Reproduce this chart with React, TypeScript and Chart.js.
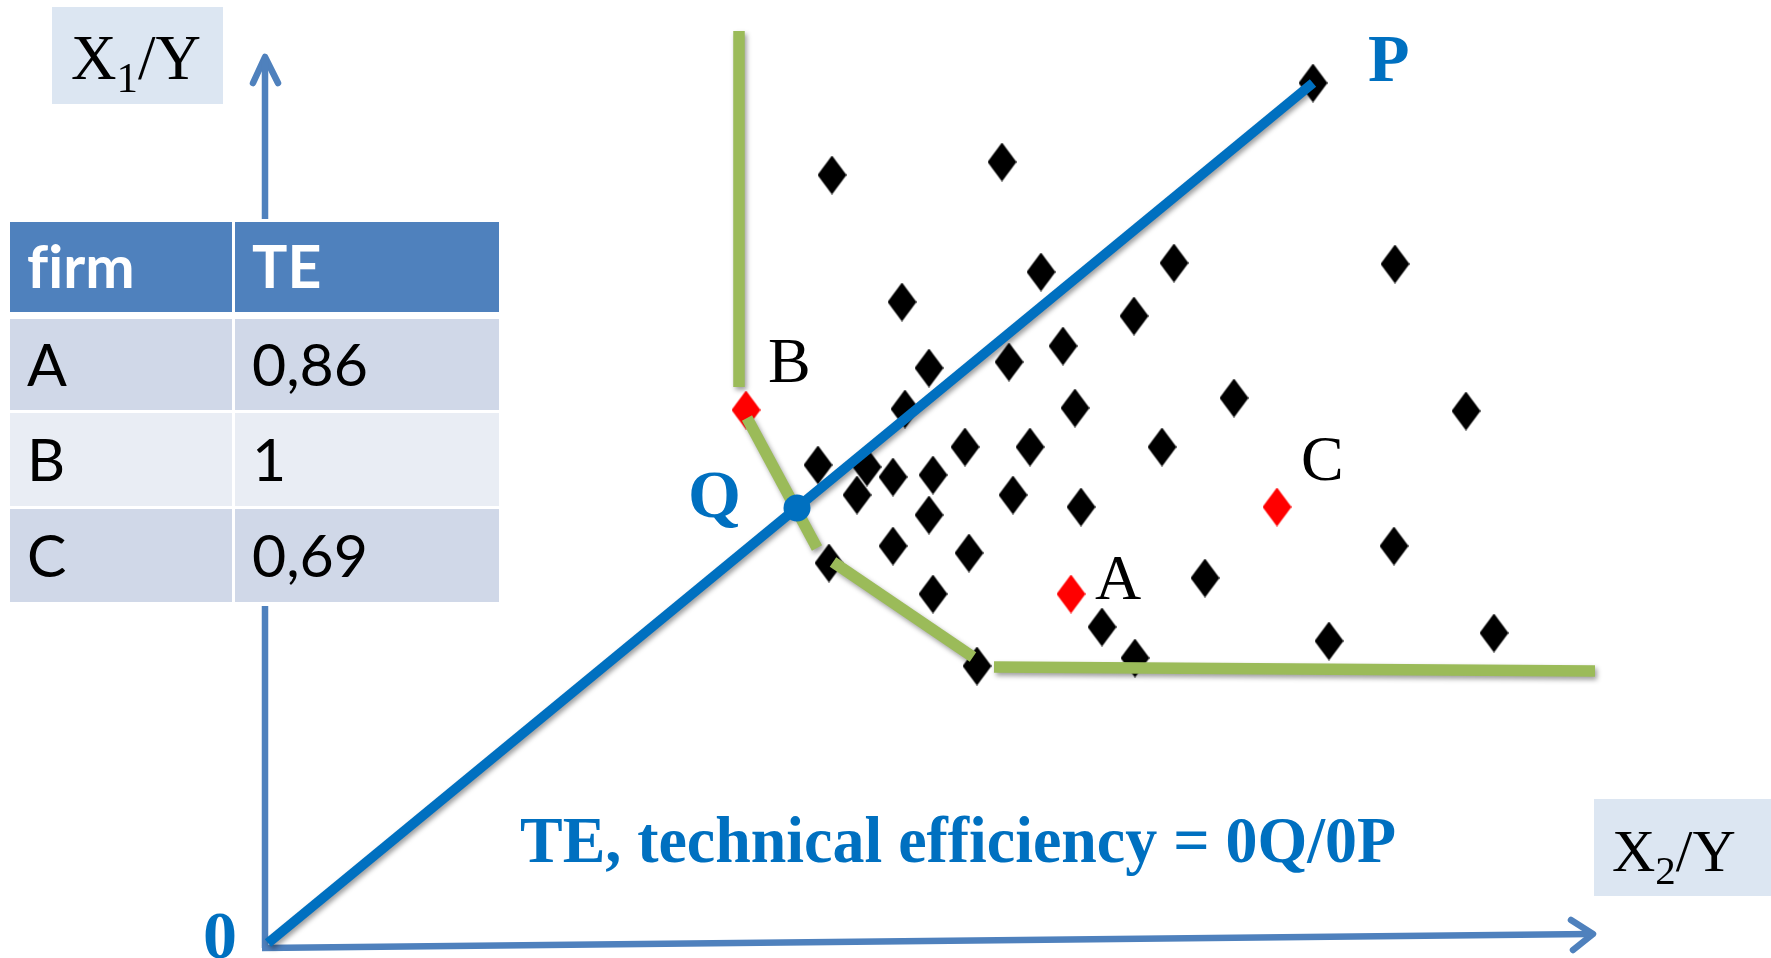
import React, { useEffect, useRef } from 'react';
import { Chart, registerables } from 'chart.js';

Chart.register(...registerables);

const W = 1771;
const H = 958;

// Value window of the input-per-output plane (X2/Y across, X1/Y up)
const X_MIN = -2.68;
const X_MAX = 15.03;
const Y_MIN = -0.15;
const Y_MAX = 9.43;

// Observed firms (black diamonds)
const firmP = { x: 10.45, y: 8.6 };
const otherFirms = [
  { x: 5.64, y: 7.68 }, { x: 7.34, y: 7.81 }, { x: 6.34, y: 6.41 }, { x: 7.73, y: 6.71 },
  { x: 9.06, y: 6.8 }, { x: 8.66, y: 6.27 }, { x: 7.95, y: 5.97 }, { x: 7.41, y: 5.81 },
  { x: 6.61, y: 5.75 }, { x: 9.66, y: 5.45 }, { x: 11.27, y: 6.79 }, { x: 6.37, y: 5.34 },
  { x: 8.07, y: 5.35 }, { x: 6.97, y: 4.96 }, { x: 7.62, y: 4.96 }, { x: 8.94, y: 4.96 },
  { x: 5.5, y: 4.78 }, { x: 5.99, y: 4.76 }, { x: 6.25, y: 4.66 }, { x: 6.65, y: 4.68 },
  { x: 5.89, y: 4.48 }, { x: 7.45, y: 4.48 }, { x: 8.13, y: 4.36 }, { x: 6.61, y: 4.28 },
  { x: 6.25, y: 3.97 }, { x: 7.01, y: 3.9 }, { x: 5.61, y: 3.8 }, { x: 6.65, y: 3.49 },
  { x: 9.37, y: 3.65 }, { x: 8.34, y: 3.16 }, { x: 8.67, y: 2.85 }, { x: 7.09, y: 2.77 },
  { x: 11.98, y: 5.32 }, { x: 11.26, y: 3.97 }, { x: 10.61, y: 3.02 }, { x: 12.26, y: 3.1 },
];

// Highlighted firms (red diamonds) and their names
const highlightNames = ['A', 'B', 'C'];
const highlightFirms = [
  { x: 8.03, y: 3.49 },
  { x: 4.78, y: 5.33 },
  { x: 10.09, y: 4.36 },
];

// Efficiency table
const tableFirms = ['A', 'B', 'C'];
const tableTE = ['0,86', '1', '0,69'];
const tableHeader = ['firm', 'TE'];

// Ray from the origin to P, and the point Q where it meets the frontier
const origin = { x: 0, y: 0 };
const pointQ = { x: 5.29, y: 4.35 };

// Piecewise efficient frontier (isoquant)
const frontierSeg1 = [{ x: 4.71, y: 9.12 }, { x: 4.71, y: 5.56 }];
const frontierSeg2 = [{ x: 4.79, y: 5.25 }, { x: 5.49, y: 3.95 }];
const frontierSeg3 = [{ x: 5.65, y: 3.81 }, { x: 7.05, y: 2.86 }];
const frontierSeg4 = [{ x: 7.26, y: 2.76 }, { x: 13.27, y: 2.72 }];

// Axes with open arrowheads
const yAxisLine = [{ x: -0.03, y: -0.05 }, { x: -0.03, y: 8.84 }];
const yAxisArrow = [{ x: -0.15, y: 8.6 }, { x: -0.03, y: 8.86 }, { x: 0.1, y: 8.6 }];
const xAxisLine = [{ x: -0.06, y: -0.05 }, { x: 13.23, y: 0.09 }];
const xAxisArrow = [{ x: 13.03, y: 0.23 }, { x: 13.25, y: 0.09 }, { x: 13.05, y: -0.07 }];

const formulaText = 'TE, technical efficiency = 0Q/0P';

const BLUE = '#0070C0';
const GREEN = '#9BBB59';
const AXIS = '#4F81BD';
const SERIF = '"Liberation Serif", "Times New Roman", serif';

function diamond(color: string): HTMLCanvasElement {
  const c = document.createElement('canvas');
  c.width = 29;
  c.height = 39;
  const g = c.getContext('2d')!;
  g.fillStyle = color;
  g.beginPath();
  g.moveTo(14.5, 0);
  g.lineTo(29, 19.5);
  g.lineTo(14.5, 39);
  g.lineTo(0, 19.5);
  g.closePath();
  g.fill();
  return c;
}

const shadowPlugin = {
  id: 'lineShadow',
  beforeDatasetDraw(chart: any, args: any) {
    const ds = chart.data.datasets[args.index];
    if (ds.shadow) {
      const ctx = chart.ctx;
      ctx.save();
      ctx.shadowColor = 'rgba(0,0,0,0.38)';
      ctx.shadowBlur = 5;
      ctx.shadowOffsetX = 2;
      ctx.shadowOffsetY = 3;
    }
  },
  afterDatasetDraw(chart: any, args: any) {
    const ds = chart.data.datasets[args.index];
    if (ds.shadow) chart.ctx.restore();
  },
};

function drawRatioTitle(
  ctx: CanvasRenderingContext2D,
  left: number,
  baseline: number,
  sub: string,
  size: number,
  stretch: number,
) {
  ctx.save();
  ctx.translate(left, baseline);
  ctx.scale(stretch, 1);
  ctx.fillStyle = '#000';
  ctx.textAlign = 'left';
  ctx.textBaseline = 'alphabetic';
  let cx = 0;
  ctx.font = `${size}px ${SERIF}`;
  ctx.fillText('X', cx, 0);
  cx += ctx.measureText('X').width;
  ctx.font = `${Math.round(size * 0.68)}px ${SERIF}`;
  ctx.fillText(sub, cx, size * 0.21);
  cx += ctx.measureText(sub).width;
  ctx.font = `${size}px ${SERIF}`;
  ctx.fillText('/Y', cx, 0);
  ctx.restore();
}

const annotationPlugin = {
  id: 'annotations',
  afterDatasetsDraw(chart: any) {
    const ctx: CanvasRenderingContext2D = chart.ctx;
    const xs = chart.scales.x;
    const ys = chart.scales.y;
    const at = (p: { x: number; y: number }) => [xs.getPixelForValue(p.x), ys.getPixelForValue(p.y)];

    ctx.save();
    ctx.textBaseline = 'alphabetic';

    // axis titles in shaded boxes
    ctx.fillStyle = '#DCE6F2';
    ctx.fillRect(52, 7, 171, 97);
    ctx.fillRect(1594, 799, 177, 97);
    drawRatioTitle(ctx, 71, 79, '1', 63, 1.0);
    drawRatioTitle(ctx, 1612, 871, '2', 60, 1.0);

    // firm names beside the red markers
    ctx.fillStyle = '#000';
    ctx.font = `64px ${SERIF}`;
    ctx.textAlign = 'left';
    const nameOffsets: Record<string, [number, number]> = { A: [24, 5], B: [22, -28], C: [24, -27] };
    highlightFirms.forEach((p, i) => {
      const [px, py] = at(p);
      const [dx, dy] = nameOffsets[highlightNames[i]];
      ctx.fillText(highlightNames[i], px + dx, py + dy);
    });

    // P, Q and origin labels
    ctx.fillStyle = BLUE;
    ctx.font = `bold 68px ${SERIF}`;
    const [ppx, ppy] = at(firmP);
    ctx.textAlign = 'left';
    ctx.fillText('P', ppx + 55, ppy - 2);
    const [qx, qy] = at(pointQ);
    ctx.textAlign = 'right';
    ctx.fillText('Q', qx - 56, qy + 9);
    const [ox, oy] = at(origin);
    ctx.textAlign = 'center';
    ctx.fillText('0', ox - 48, oy + 15);

    // efficiency definition
    ctx.textAlign = 'left';
    ctx.font = `bold 66px ${SERIF}`;
    ctx.fillText(formulaText, 520, 862, 876);
    ctx.restore();
  },
};

function lineSet(data: { x: number; y: number }[], color: string, width: number, order: number, extra: any = {}) {
  return {
    type: 'scatter' as const,
    data,
    showLine: true,
    borderColor: color,
    borderWidth: width,
    pointRadius: 0,
    pointHoverRadius: 0,
    clip: false,
    order,
    ...extra,
  };
}

export default function App() {
  const ref = useRef<HTMLCanvasElement>(null);

  useEffect(() => {
    const canvas = ref.current;
    if (!canvas) return;
    const blackDiamond = diamond('#000000');
    const redDiamond = diamond('#FF0000');

    const chart = new Chart(canvas, {
      type: 'scatter',
      data: {
        datasets: [
          {
            data: [pointQ],
            pointStyle: 'circle',
            pointRadius: 13.5,
            backgroundColor: BLUE,
            borderColor: BLUE,
            borderWidth: 0,
            clip: false,
            order: 0,
          } as any,
          lineSet([origin, firmP], BLUE, 10, 1, { shadow: true }),
          lineSet(frontierSeg1, GREEN, 11.5, 2, { shadow: true }),
          lineSet(frontierSeg2, GREEN, 11.5, 2, { shadow: true }),
          lineSet(frontierSeg3, GREEN, 11.5, 2, { shadow: true }),
          lineSet(frontierSeg4, GREEN, 11.5, 2, { shadow: true }),
          {
            data: highlightFirms,
            pointStyle: redDiamond,
            pointRadius: 14,
            clip: false,
            order: 3,
          } as any,
          {
            data: [...otherFirms, firmP],
            pointStyle: blackDiamond,
            pointRadius: 14,
            clip: false,
            order: 4,
          } as any,
          lineSet(yAxisLine, AXIS, 6.5, 5),
          lineSet(yAxisArrow, AXIS, 6.5, 5, { borderCapStyle: 'round', borderJoinStyle: 'round' }),
          lineSet(xAxisLine, AXIS, 6.5, 5),
          lineSet(xAxisArrow, AXIS, 6.5, 5, { borderCapStyle: 'round', borderJoinStyle: 'round' }),
        ] as any,
      },
      options: {
        animation: false,
        responsive: false,
        maintainAspectRatio: false,
        events: [],
        layout: { padding: 0, autoPadding: false },
        plugins: { legend: { display: false }, tooltip: { enabled: false } },
        scales: {
          x: { type: 'linear', min: X_MIN, max: X_MAX, display: false },
          y: { type: 'linear', min: Y_MIN, max: Y_MAX, display: false },
        },
      },
      plugins: [shadowPlugin, annotationPlugin],
    });
    return () => chart.destroy();
  }, []);

  // table layout: column lefts/widths and row tops/heights
  const colLeft = [10, 235];
  const colWidth = [222, 264];
  const rowTop = [222, 319, 413, 509];
  const rowHeight = [90, 91, 93, 93];
  const rowFill = ['#4F81BD', '#D0D8E8', '#E9EDF4', '#D0D8E8'];
  const rows = [tableHeader, ...tableFirms.map((f, i) => [f, tableTE[i]])];

  return (
    <div
      style={{
        position: 'fixed',
        left: 0,
        top: 0,
        width: W,
        height: H,
        background: '#fff',
        overflow: 'hidden',
      }}
    >
      <canvas ref={ref} width={W} height={H} style={{ position: 'absolute', left: 0, top: 0 }} />
      <div style={{ position: 'absolute', left: 7, top: 219, width: 495, height: 387, background: '#fff' }} />
      {rows.map((row, r) =>
        row.map((txt, c) => (
          <div
            key={`${r}-${c}`}
            style={{
              position: 'absolute',
              left: colLeft[c],
              top: rowTop[r],
              width: colWidth[c],
              height: rowHeight[r],
              background: rowFill[r],
              display: 'flex',
              alignItems: 'center',
              boxSizing: 'border-box',
              paddingLeft: 17,
              paddingBottom: 3,
              fontFamily: 'Lato, "Open Sans", sans-serif',
              fontWeight: r === 0 ? 700 : 400,
              fontSize: 59,
              fontVariantLigatures: 'none',
              color: r === 0 ? '#fff' : '#000',
              lineHeight: 1,
            }}
          >
            {txt}
          </div>
        )),
      )}
    </div>
  );
}
